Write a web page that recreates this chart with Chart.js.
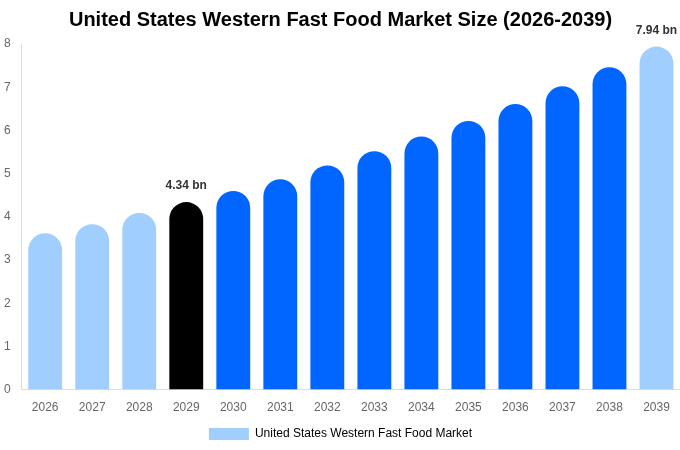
<!DOCTYPE html>
<html>
<head>
<meta charset="utf-8">
<script src="https://cdn.jsdelivr.net/npm/chart.js@4"></script>
<style>
  html, body { margin: 0; padding: 0; background: #fff; }
  #wrap { width: 680px; height: 450px; }
</style>
</head>
<body>
<div id="wrap"><canvas id="marketChart"></canvas></div>
<script>
const years = ['2026', '2027', '2028', '2029', '2030', '2031', '2032', '2033', '2034', '2035', '2036', '2037', '2038', '2039'];
const marketSize = [3.62, 3.83, 4.09, 4.34, 4.60, 4.87, 5.19, 5.52, 5.86, 6.22, 6.61, 7.02, 7.46, 7.94];
const labelledYears = ['2029', '2039'];

const lightBlue = '#a0cfff';
const blue = '#0066ff';
const barColors = years.map((y, i) => {
    if (y === '2029') return '#000000';
    if (i < 3 || i === years.length - 1) return lightBlue;
    return blue;
});

// value labels above selected bars
const valueLabels = {
    id: 'valueLabels',
    afterDatasetsDraw(chart) {
        const ctx = chart.ctx;
        const meta = chart.getDatasetMeta(0);
        ctx.save();
        ctx.font = 'bold 12px "Liberation Sans", Arial, sans-serif';
        ctx.fillStyle = '#333';
        ctx.textAlign = 'center';
        ctx.textBaseline = 'bottom';
        meta.data.forEach((bar, i) => {
            if (!labelledYears.includes(years[i])) return;
            ctx.fillText(marketSize[i].toFixed(2) + ' bn', bar.x, bar.y - 10);
        });
        ctx.restore();
    }
};

const ctx = document.getElementById('marketChart').getContext('2d');
new Chart(ctx, {
    type: 'bar',
    data: {
        labels: years,
        datasets: [{
            label: 'United States Western Fast Food Market',
            data: marketSize,
            backgroundColor: barColors,
            borderRadius: {topLeft: 17, topRight: 17},
            borderSkipped: 'bottom',
            barPercentage: 0.72,
            categoryPercentage: 1
        }]
    },
    options: {
        responsive: true,
        maintainAspectRatio: false,
        animation: false,
        layout: { padding: { left: 1, right: 0, top: 0, bottom: 0 } },
        plugins: {
            title: {
                display: true,
                text: 'United States Western Fast Food Market Size (2026-2039)',
                font: { family: '"Liberation Sans", Arial, sans-serif', size: 20, weight: 'bold' },
                color: '#000',
                padding: { top: 8, bottom: 12 }
            },
            legend: {
                position: 'bottom',
                labels: {
                    boxWidth: 40,
                    boxHeight: 12,
                    color: '#666',
                    font: { family: '"Liberation Sans", Arial, sans-serif', size: 12 },
                    generateLabels: () => [{
                        text: 'United States Western Fast Food Market',
                        fillStyle: lightBlue,
                        strokeStyle: lightBlue,
                        lineWidth: 0,
                        datasetIndex: 0
                    }]
                }
            },
            tooltip: { enabled: false }
        },
        scales: {
            x: {
                grid: { display: false },
                border: { display: true, color: '#ddd' },
                ticks: { color: '#666', font: { family: '"Liberation Sans", Arial, sans-serif', size: 12 } }
            },
            y: {
                min: 0,
                max: 8,
                grid: { display: false },
                border: { display: true, color: '#ddd' },
                ticks: { stepSize: 1, color: '#666', padding: 3, font: { family: '"Liberation Sans", Arial, sans-serif', size: 12 } }
            }
        }
    },
    plugins: [valueLabels]
});
</script>
</body>
</html>
